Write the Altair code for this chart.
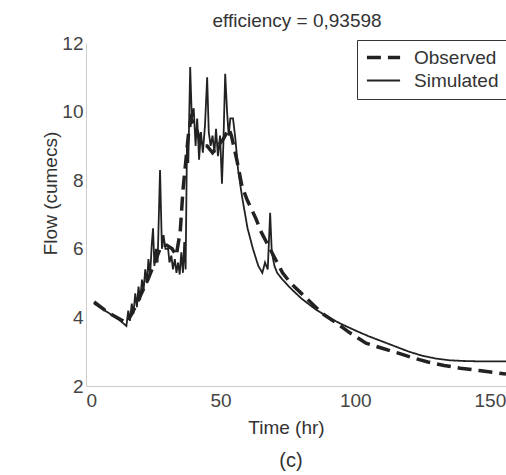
import altair as alt
import pandas as pd

obs_t = [3, 8, 15, 17, 20, 23, 26, 28, 30, 32, 33.5, 35, 36, 37, 38, 39, 41, 43, 45, 47, 49, 51, 53, 54, 56, 58, 60, 63, 65, 67, 69, 71, 73, 76, 80, 84, 88, 93, 98, 104, 110, 116, 121, 127, 133, 139, 146, 153, 156]
obs_v = [4.45, 4.15, 3.84, 4.1, 4.6, 5.1, 5.7, 6.1, 6.1, 6.0, 5.8, 6.5, 7.7, 8.5, 9.3, 9.8, 9.5, 9.0, 9.0, 8.8, 9.0, 9.2, 9.5, 9.3, 8.6, 7.8, 7.4, 6.9, 6.5, 6.2, 5.9, 5.6, 5.3, 5.0, 4.7, 4.4, 4.1, 3.84, 3.55, 3.25, 3.1, 2.96, 2.83, 2.7, 2.6, 2.52, 2.45, 2.38, 2.35]

sim_t = [3, 8, 12, 15, 15.7, 16.3, 17, 17.6, 18.3, 18.9, 19.5, 20.1, 20.8, 21.4, 22, 22.6, 23.2, 23.8, 24.4, 24.9, 25.4, 26, 26.6, 27.5, 28.2, 28.8, 29.5, 30.5, 31, 31.7, 32.3, 33, 33.6, 34.2, 34.8, 35.4, 36, 36.5, 37, 37.5, 38, 38.7, 39.3, 40, 40.7, 41.3, 42, 42.7, 43.4, 44.2, 45, 45.6, 46.3, 47, 47.7, 48.3, 49, 49.8, 50.5, 51, 51.7, 52.4, 53, 53.6, 54.6, 55.5, 56.5, 58, 60, 62, 64, 65.5, 66.5, 67.5, 68.4, 69, 70, 71, 73, 76, 80, 85, 90, 95, 100, 105, 110, 115, 120, 125, 130, 135, 140, 145, 150, 156]
sim_v = [4.4, 4.15, 3.95, 3.75, 4.2, 3.9, 4.4, 4.1, 4.7, 4.3, 4.9, 4.5, 5.1, 4.8, 5.4, 5.0, 5.7, 5.2, 6.1, 6.6, 5.5, 6.0, 5.6, 8.3, 6.0, 6.4, 6.0, 6.0, 5.6, 5.8, 5.4, 5.7, 5.3, 5.6, 5.25, 5.9, 5.3, 6.2, 5.4, 9.0, 8.5, 11.3, 9.8, 10.1, 9.0, 9.8, 8.6, 9.4, 8.8, 9.6, 11.0, 9.4, 9.0, 9.3, 8.8, 9.5, 8.7, 9.3, 7.9, 9.0, 11.1, 10.0, 9.3, 9.8, 9.8, 9.2, 8.3, 7.5, 6.6, 6.0, 5.5, 5.3, 5.6, 5.4, 7.05, 5.9, 5.5, 5.3, 5.1, 4.85, 4.55, 4.25, 4.0, 3.8, 3.62, 3.45, 3.3, 3.15, 3.0, 2.88, 2.8, 2.75, 2.73, 2.72, 2.72, 2.72]

series = ["Observed", "Simulated"]
x_ticks = [0, 50, 100, 150]
y_ticks = [2, 4, 6, 8, 10, 12]

df = pd.concat([
    pd.DataFrame({"t": obs_t, "v": obs_v, "s": series[0], "o": range(len(obs_t))}),
    pd.DataFrame({"t": sim_t, "v": sim_v, "s": series[1], "o": range(len(sim_t))}),
])

FONT = "Liberation Sans"

leg = alt.Legend(
    title=None, orient="none", legendX=271, legendY=-3,
    symbolType="stroke", symbolSize=1100, symbolStrokeColor="#222",
    labelFont=FONT, labelFontSize=19, labelColor="#333", labelOffset=12,
    padding=8, rowPadding=3, clipHeight=19, strokeColor="#333", fillColor="white",
)

lines = alt.Chart(df).mark_line(color="#222", clip=True).encode(
    x=alt.X("t:Q", scale=alt.Scale(domain=[0, 156], nice=False, zero=False),
            axis=alt.Axis(values=x_ticks, title="Time (hr)", titleX=200, titleY=47,
                          titleBaseline="alphabetic", titleAlign="center")),
    y=alt.Y("v:Q", scale=alt.Scale(domain=[2, 12], nice=False, zero=False),
            axis=alt.Axis(values=y_ticks, title="Flow (cumecs)", titleX=-30, titleY=150,
                          titleBaseline="alphabetic", titleAlign="center")),
    strokeDash=alt.StrokeDash("s:N", scale=alt.Scale(domain=series, range=[[14, 7], [1, 0]]), legend=leg),
    strokeWidth=alt.StrokeWidth("s:N", scale=alt.Scale(domain=series, range=[3.5, 1.8]), legend=leg),
    order="o:Q",
    detail="s:N",
)

label_c = alt.Chart(pd.DataFrame({"c": ["(c)"]})).mark_text(
    font=FONT, fontSize=20, color="#333", baseline="alphabetic", align="center"
).encode(text="c:N", x=alt.value(205), y=alt.value(424))

title_t = alt.Chart(pd.DataFrame({"c": ["efficiency = 0,93598"]})).mark_text(
    font=FONT, fontSize=19, color="#333", baseline="alphabetic", align="center"
).encode(text="c:N", x=alt.value(211), y=alt.value(-16))

chart = alt.layer(lines, label_c, title_t).properties(
    width=420, height=343,
    autosize=alt.AutoSizeParams(type="none"),
    padding={"left": 86, "top": 43, "right": 0, "bottom": 89},
    background="white",
).configure_view(stroke=None).configure_axis(
    grid=False, ticks=False, domainColor="#cccccc", domainWidth=1,
    labelFont=FONT, labelFontSize=19, labelColor="#444",
    titleFont=FONT, titleFontSize=19, titleFontWeight="normal", titleColor="#333",
).configure_axisX(labelPadding=5).configure_axisY(labelPadding=3)

chart.save("out.html", embed_options={"renderer": "svg", "actions": False})
